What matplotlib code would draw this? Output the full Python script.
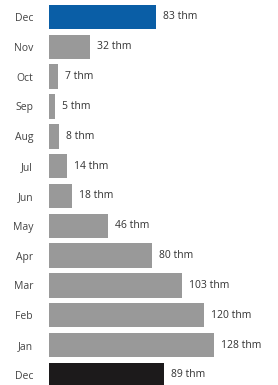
import matplotlib
matplotlib.use("Agg")
import matplotlib.pyplot as plt

months = ["Dec", "Nov", "Oct", "Sep", "Aug", "Jul", "Jun", "May", "Apr", "Mar", "Feb", "Jan", "Dec"]
values = [83, 32, 7, 5, 8, 14, 18, 46, 80, 103, 120, 128, 89]
colors = ["#0a5ea6"] + ["#999999"] * 11 + ["#1c1a1b"]
unit = "thm"

plt.rcParams['font.family'] = ['Open Sans', 'DejaVu Sans']

fig = plt.figure(figsize=(2.78, 3.85), dpi=100)
ax = fig.add_axes([49 / 278, 0, 1 - 49 / 278, 1])
ypos = list(range(len(months)))
ax.barh(ypos, values, height=0.82, color=colors)
ax.set_xlim(0, (278 - 49) / 1.29)
ax.set_ylim(12.34, -0.57)
ax.set_yticks(ypos)
ax.set_yticklabels(months, fontsize=7.5, color="#444444")
ax.tick_params(axis="y", length=0, pad=11.5)
ax.set_xticks([])
for s in ax.spines.values():
    s.set_visible(False)
for y, v in zip(ypos, values):
    ax.annotate(f"{v} {unit}", (v, y), xytext=(5, 0), textcoords="offset points",
                va="center", ha="left", fontsize=7.5, color="#333333")
fig.savefig("out.png", dpi=100)
